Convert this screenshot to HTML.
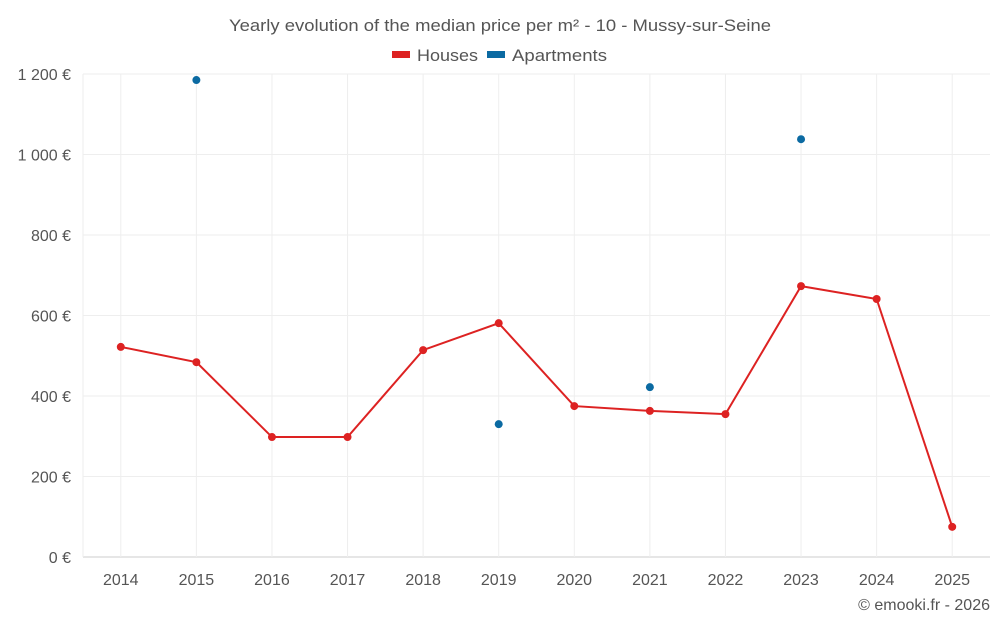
<!DOCTYPE html>
<html><head><meta charset="utf-8"><style>
body{margin:0;background:#fff;font-family:"Liberation Sans",sans-serif;}
svg text{font-family:"Liberation Sans",sans-serif;}
</style></head><body>
<svg id="c" width="1000" height="625">
<text x="229" y="31" textLength="542" lengthAdjust="spacingAndGlyphs" font-size="17" fill="#555">Yearly evolution of the median price per m² - 10 - Mussy-sur-Seine</text>
<g>
<g><rect x="392" y="51" width="18" height="7" fill="#dd2222"/><text x="417" y="61" textLength="61" lengthAdjust="spacingAndGlyphs" font-size="17" fill="#555">Houses</text></g>
<g><rect x="487" y="51" width="18" height="7" fill="#0b6aa2"/><text x="512" y="61" textLength="95" lengthAdjust="spacingAndGlyphs" font-size="17" fill="#555">Apartments</text></g>
</g>
<g id="grid"></g><g id="axes"></g><g id="marks"></g>
<text x="990" y="610" text-anchor="end" font-size="16" fill="#555">© emooki.fr - 2026</text>
</svg>
<script>
const years=["2014","2015","2016","2017","2018","2019","2020","2021","2022","2023","2024","2025"];
const houses=[522,484,298,298,514,581,375,363,355,673,641,75];
const apartments=[null,1185,null,null,null,330,null,422,null,1038,null,null];
const yTicks=[0,200,400,600,800,1000,1200];
const yLabels=["0 €","200 €","400 €","600 €","800 €","1 000 €","1 200 €"];
const L=83,R=990,T=74,B=557,ymax=1200;
const bw=(R-L)/years.length;
const x=i=>L+bw*(i+0.5);
const y=v=>B-(v/ymax)*(B-T);
const NS="http://www.w3.org/2000/svg";
function mk(t,a,p){const e=document.createElementNS(NS,t);for(const k in a)e.setAttribute(k,a[k]);p.appendChild(e);return e;}
const g=document.getElementById('grid'),ax=document.getElementById('axes'),m=document.getElementById('marks');
yTicks.forEach((v,i)=>{
 const l=mk('line',{x1:L,x2:R,y1:y(v),y2:y(v),stroke:i==0?'#ccc':'#eee'},g);
 
 
 const t=mk('text',{x:71,y:y(v)+6,'text-anchor':'end','font-size':16,fill:'#555'},ax);
 t.textContent=yLabels[i];
 
 
});
years.forEach((yr,i)=>{
 const l=mk('line',{x1:x(i),x2:x(i),y1:T,y2:B,stroke:'#eee'},g);
 
 
 const t=mk('text',{x:x(i),y:585,'text-anchor':'middle','font-size':16,fill:'#555'},ax);
 t.textContent=yr;
 
 
});
mk('line',{x1:L,x2:L,y1:T,y2:B,stroke:'#eee'},g);
const pl=mk('polyline',{points:houses.map((v,i)=>x(i)+','+y(v)).join(' '),fill:'none',stroke:'#dd2222','stroke-width':2},m);


houses.forEach((v,i)=>{
 const c=mk('circle',{cx:x(i),cy:y(v),r:4,fill:'#dd2222'},m);
 
 
});
apartments.forEach((v,i)=>{
 if(v==null)return;
 const c=mk('circle',{cx:x(i),cy:y(v),r:4,fill:'#0b6aa2'},m);
 
 
});
</script>
</body></html>
